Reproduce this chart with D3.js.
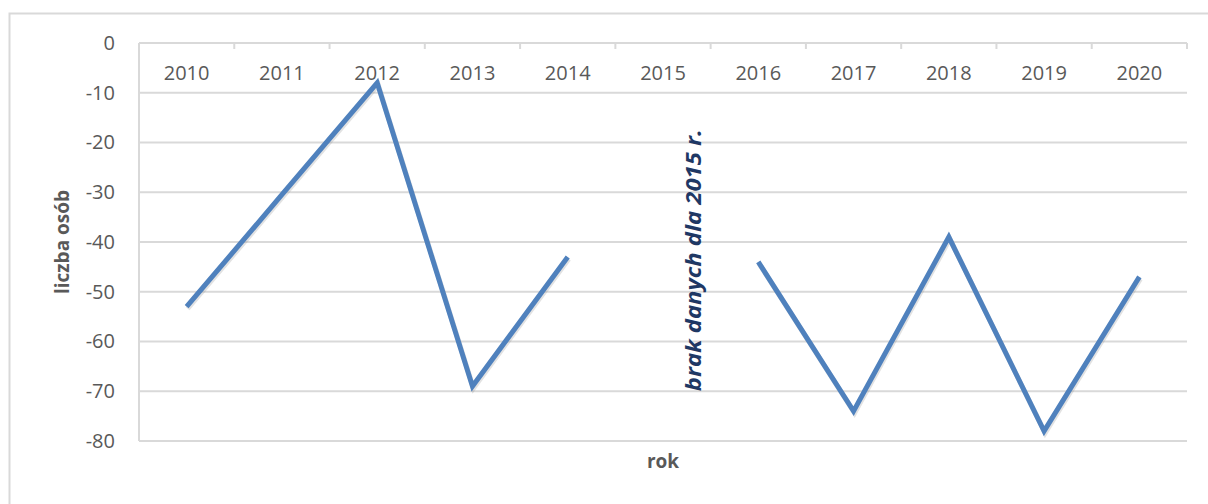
<!DOCTYPE html>
<html><head><meta charset="utf-8">
<script src="https://cdn.jsdelivr.net/npm/d3@7"></script>
<style>html,body{margin:0;padding:0;background:#fff;overflow:hidden}</style>
</head><body>
<svg id="c" width="1208" height="504"></svg>
<script>
const years = ["2010","2011","2012","2013","2014","2015","2016","2017","2018","2019","2020"];
const values = [-53, -30.5, -8, -69, -43, null, -44, -74, -39, -78, -47];
const yTicks = [0, -10, -20, -30, -40, -50, -60, -70, -80];
const noteText = "brak danych dla 2015 r.";
const yTitle = "liczba osób";
const xTitle = "rok";

const svg = d3.select("#c");
const W = 1208, H = 504;
const m = {left: 139, right: 1187, top: 43, bottom: 441};
const font = "'Open Sans', 'Liberation Sans', sans-serif";
const grey = "#595959";

// outer frame
svg.append("path").attr("d", `M9.5,${H+5} V13.5 H${W+5}`).attr("fill","none").attr("stroke","#d9d9d9").attr("stroke-width",2);

const x = d3.scaleBand().domain(years).range([m.left, m.right]).padding(0);
const y = d3.scaleLinear().domain([0, -80]).range([m.top, m.bottom]);

// gridlines
svg.append("g").selectAll("line").data(yTicks.filter(d => d !== 0)).join("line")
  .attr("x1", m.left).attr("x2", m.right)
  .attr("y1", d => y(d)).attr("y2", d => y(d))
  .attr("stroke", "#d9d9d9").attr("stroke-width", 2);

// left value axis line
svg.append("line").attr("x1", m.left).attr("x2", m.left).attr("y1", m.top).attr("y2", m.bottom)
  .attr("stroke", "#d9d9d9").attr("stroke-width", 2);

// category axis at top (y=0)
svg.append("line").attr("x1", m.left).attr("x2", m.right).attr("y1", y(0)).attr("y2", y(0))
  .attr("stroke", "#d9d9d9").attr("stroke-width", 2);
const tickPos = years.map(d => x(d)).concat([x(years[years.length-1]) + x.bandwidth()]);
svg.append("g").selectAll("line").data(tickPos).join("line")
  .attr("x1", d => d).attr("x2", d => d).attr("y1", y(0)).attr("y2", y(0) + 6)
  .attr("stroke", "#d9d9d9").attr("stroke-width", 2);
svg.append("g").selectAll("text").data(years).join("text")
  .attr("x", d => x(d) + x.bandwidth()/2).attr("y", 80)
  .attr("text-anchor", "middle").attr("font-family", font).attr("font-size", 20)
  .attr("fill", grey).text(d => d);

// y tick labels
const yAxis = d3.axisLeft(y).tickValues(yTicks).tickSize(0).tickPadding(0).tickFormat(d => String(d));
const ya = svg.append("g").attr("transform", `translate(115,0)`).call(yAxis);
ya.select(".domain").remove();
ya.selectAll("text").attr("font-family", font).attr("font-size", 20).attr("fill", grey);

// line
const line = d3.line().defined(d => d.v !== null)
  .x(d => x(d.k) + x.bandwidth()/2).y(d => y(d.v));
const data = years.map((k, i) => ({k, v: values[i]}));
svg.append("path").datum(data).attr("d", line)
  .attr("fill", "none").attr("stroke", "#8a8a8a").attr("stroke-opacity", 0.25)
  .attr("stroke-width", 5).attr("transform", "translate(1,2)");
svg.append("path").datum(data).attr("d", line)
  .attr("fill", "none").attr("stroke", "#4f81bd").attr("stroke-width", 5)
  .attr("stroke-linejoin", "miter");

// note for 2015
const nx = x("2015") + x.bandwidth()/2 + 38, ny = y(-70);
svg.append("text").attr("transform", `translate(${nx},${ny}) rotate(-90)`)
  .attr("font-family", font).attr("font-size", 21).attr("font-weight", "bold").attr("font-style", "italic")
  .attr("textLength", 262).attr("lengthAdjust", "spacingAndGlyphs")
  .attr("fill", "#1f3864").text(noteText);

// axis titles
svg.append("text").attr("transform", `translate(69,242) rotate(-90)`).attr("text-anchor", "middle")
  .attr("font-family", font).attr("font-size", 19).attr("font-weight", "bold").attr("fill", grey).text(yTitle);
svg.append("text").attr("x", (m.left + m.right)/2).attr("y", 468).attr("text-anchor", "middle")
  .attr("font-family", font).attr("font-size", 19).attr("font-weight", "bold").attr("fill", grey).text(xTitle);
</script>
</body></html>
